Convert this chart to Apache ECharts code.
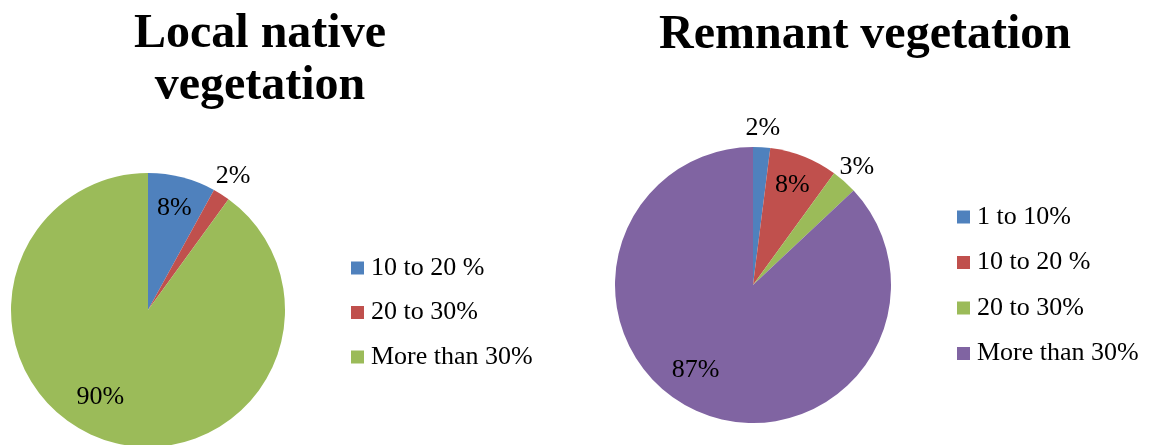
<!DOCTYPE html>
<html>
<head>
<meta charset="utf-8">
<title>Local native vegetation / Remnant vegetation</title>
<script src="https://cdn.jsdelivr.net/npm/echarts@6/dist/echarts.min.js"></script>
<style>
  html, body { margin: 0; padding: 0; background: #fff; }
  #chart { width: 1149px; height: 445px; }
</style>
</head>
<body>
<div id="chart"></div>
<script>
// data (percent)
var localNames = ['10 to 20 %', '20 to 30%', 'More than 30%'];
var localValues = [8, 2, 90];
var localColors = ['#4F81BD', '#C0504D', '#9BBB59'];

var remnantNames = ['1 to 10%', '10 to 20 %', '20 to 30%', 'More than 30%'];
var remnantValues = [2, 8, 3, 87];
var remnantColors = ['#4F81BD', '#C0504D', '#9BBB59', '#8064A2'];

var FONT = '"Liberation Serif", "Times New Roman", serif';
var labelText = { fontFamily: FONT, fontSize: 26, color: '#000' };

function sliceData(names, values, colors) {
  return names.map(function (n, i) {
    return { name: n, value: values[i], itemStyle: { color: colors[i] } };
  });
}

// transparent copy of a pie, used only to place the labels at another radius
function labelRing(id, center, radius, names, values, small) {
  return {
    type: 'pie',
    id: id,
    center: center,
    radius: radius,
    startAngle: 90,
    silent: true,
    animation: false,
    percentPrecision: 0,
    itemStyle: { color: 'rgba(0,0,0,0)' },
    emphasis: { disabled: true },
    labelLine: { show: false },
    data: names.map(function (n, i) {
      var show = small ? values[i] < 5 : values[i] >= 5;
      return {
        name: n, value: values[i],
        label: { show: show, position: 'inside', formatter: '{d}%' }
      };
    }),
    label: labelText,
    // the big slice label sits a bit further round, like Excel's best fit
    labelLayout: function (p) {
      return values[p.dataIndex] >= 50 ? { dx: -15, dy: -13 } : {};
    }
  };
}

function mainPie(center, radius, names, values, colors) {
  return {
    type: 'pie',
    center: center,
    radius: radius,
    startAngle: 90,
    animation: false,
    label: { show: false },
    labelLine: { show: false },
    itemStyle: { borderWidth: 0 },
    data: sliceData(names, values, colors)
  };
}

function legendData(names, colors) {
  return names.map(function (n, i) {
    return { name: n, itemStyle: { color: colors[i] } };
  });
}

var myChart = echarts.init(document.getElementById('chart'));

var legendText = { fontFamily: FONT, fontSize: 26, color: '#000', lineHeight: 26, padding: [0, 0, 0, 2] };
var titleText = { fontFamily: FONT, fontSize: 48, fontWeight: 'bold', color: '#000', lineHeight: 52 };

var option = {
  backgroundColor: '#fff',
  title: [
    { text: 'Local native\nvegetation', left: 255, top: 4, textAlign: 'center', textStyle: titleText },
    { text: 'Remnant vegetation', left: 860, top: 5, textAlign: 'center', textStyle: titleText }
  ],
  legend: [
    {
      orient: 'vertical', left: 351, top: 255, padding: 0,
      itemWidth: 13, itemHeight: 13, itemGap: 18.5, icon: 'rect',
      selectedMode: false,
      textStyle: legendText,
      data: legendData(localNames, localColors)
    },
    {
      orient: 'vertical', left: 957, top: 204, padding: 0,
      itemWidth: 13, itemHeight: 13, itemGap: 19.5, icon: 'rect',
      selectedMode: false,
      textStyle: legendText,
      data: legendData(remnantNames, remnantColors)
    }
  ],
  series: [
    mainPie([148, 310], 137, localNames, localValues, localColors),
    mainPie([753, 285], 138, remnantNames, remnantValues, remnantColors),
    labelRing('localIn', [148, 310], 205, localNames, localValues, false),
    labelRing('localOut', [148, 310], 312, localNames, localValues, true),
    labelRing('remIn', [753, 285], 208, remnantNames, remnantValues, false),
    labelRing('remOut', [753, 285], 308, remnantNames, remnantValues, true)
  ]
};

myChart.setOption(option);
</script>
</body>
</html>
